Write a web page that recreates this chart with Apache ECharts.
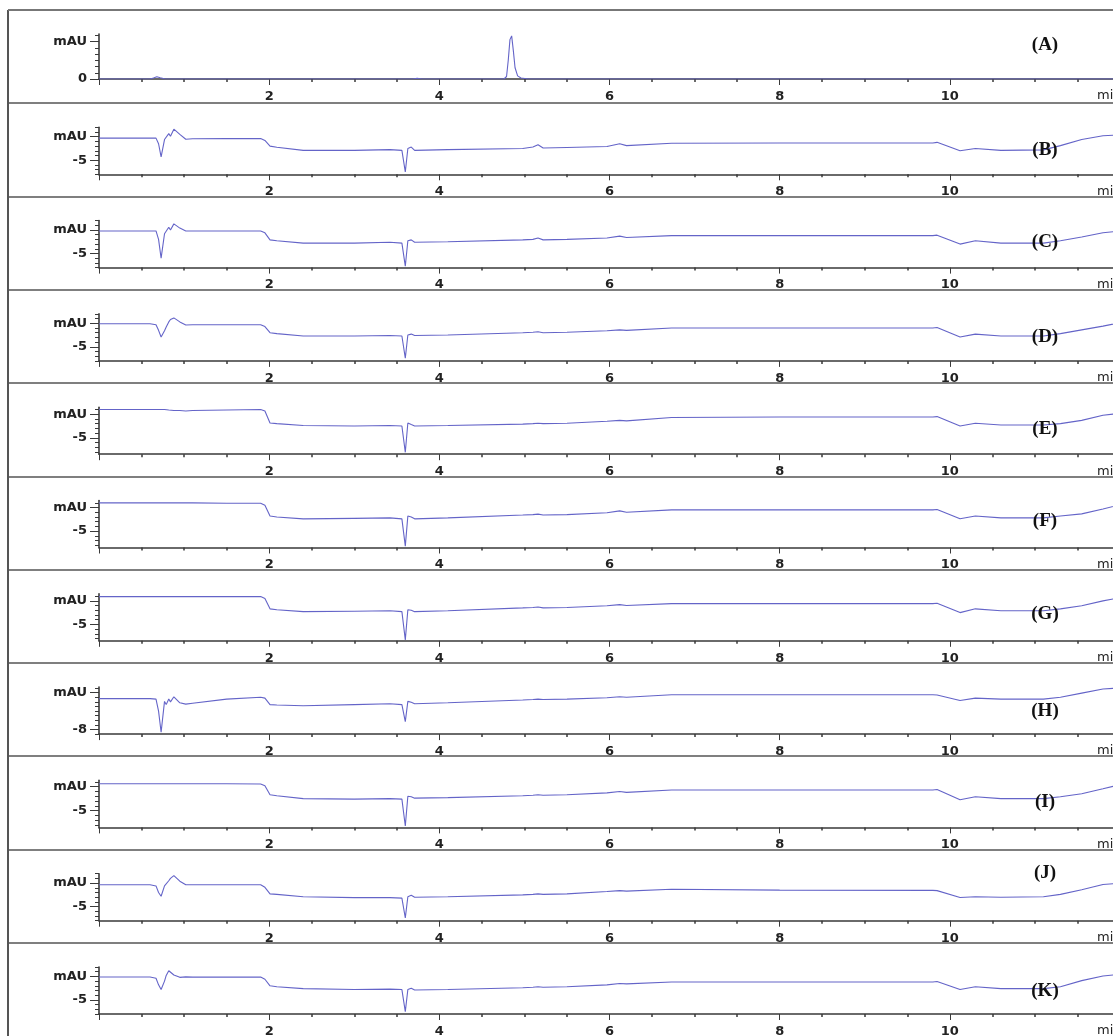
<!DOCTYPE html>
<html>
<head>
<meta charset="utf-8">
<title>Chromatograms (A)-(K)</title>
<script src="https://cdn.jsdelivr.net/npm/echarts@6.0.0/dist/echarts.min.js"></script>
<style>
html, body { margin: 0; padding: 0; background: #fff; }
#chroma_chart { width: 1113px; height: 1036px; }
</style>
</head>
<body>
<div id="chroma_chart"></div>
<script>
// retention time (min) for panel A
var timesA = [0, 0.6, 0.64, 0.68, 0.72, 0.78, 3.68, 3.74, 3.8, 4.76, 4.79, 4.81, 4.83, 4.85, 4.87, 4.89, 4.92, 4.96, 5.05, 12];
var traceA = [0, 0, 0.15, 0.35, 0.2, 0, 0, 0.12, 0, 0, 0.4, 3.0, 6.3, 6.9, 4.5, 1.8, 0.5, 0.15, 0, 0];

// retention time (min) shared by panels B-K
var times = [0, 0.6, 0.67, 0.7, 0.73, 0.77, 0.79, 0.82, 0.84, 0.88,
  0.95, 1.02, 1.1, 1.5, 1.9, 1.95, 2.01, 2.09, 2.4, 3.0,
  3.42, 3.56, 3.6, 3.63, 3.67, 3.71, 4.1, 4.98, 5.1, 5.16,
  5.22, 5.5, 5.97, 6.12, 6.2, 6.73, 8.0, 9.8, 9.85, 10.12,
  10.3, 10.6, 11.1, 11.3, 11.55, 11.8, 12];

// signal (mAU)
var traceB = [-0.3, -0.3, -0.3, -1.5, -4.3, -0.6, -0.9, 0.66, 0.1, 1.6,
  0.5, -0.55, -0.45, -0.4, -0.4, -0.8, -2.0, -2.25, -2.9, -2.9,
  -2.75, -2.9, -7.5, -2.5, -2.2, -2.9, -2.75, -2.5, -2.2, -1.7,
  -2.4, -2.3, -2.1, -1.5, -1.9, -1.4, -1.35, -1.35, -1.2, -3.0,
  -2.5, -2.9, -2.8, -1.9, -0.6, 0.2, 0.4];
var traceC = [-0.2, -0.2, -0.2, -2.0, -6.0, -0.8, -1.0, 0.6, 0.0, 1.3,
  0.4, -0.2, -0.2, -0.2, -0.2, -0.6, -2.1, -2.3, -2.8, -2.8,
  -2.6, -2.8, -7.7, -2.3, -2.1, -2.6, -2.5, -2.1, -2.0, -1.7,
  -2.1, -2.0, -1.7, -1.3, -1.6, -1.2, -1.2, -1.2, -1.1, -3.0,
  -2.3, -2.8, -2.8, -2.3, -1.5, -0.6, -0.2];
var traceD = [-0.1, -0.1, -0.3, -1.5, -2.9, -1.6, -0.8, 0.3, 0.8, 1.15,
  0.3, -0.35, -0.3, -0.3, -0.3, -0.7, -2.0, -2.2, -2.7, -2.7,
  -2.6, -2.7, -7.4, -2.5, -2.3, -2.6, -2.5, -2.0, -1.9, -1.8,
  -2.0, -1.9, -1.6, -1.4, -1.5, -1.0, -1.0, -1.0, -0.9, -2.9,
  -2.3, -2.7, -2.7, -2.2, -1.4, -0.6, 0.1];
var traceE = [1.0, 1.0, 1.0, 1.0, 1.0, 1.0, 1.0, 0.9, 0.9, 0.8,
  0.8, 0.7, 0.8, 0.9, 1.0, 0.7, -1.85, -2.0, -2.4, -2.5,
  -2.4, -2.5, -8.1, -1.85, -2.2, -2.5, -2.4, -2.1, -2.0, -1.9,
  -2.0, -1.9, -1.5, -1.3, -1.4, -0.7, -0.6, -0.6, -0.5, -2.5,
  -1.9, -2.3, -2.3, -2.0, -1.3, -0.2, 0.2];
var traceF = [1.0, 1.0, 1.0, 1.0, 1.0, 1.0, 1.0, 1.0, 1.0, 1.0,
  1.0, 1.0, 1.0, 0.9, 0.9, 0.5, -1.8, -2.0, -2.4, -2.3,
  -2.2, -2.4, -8.2, -1.8, -2.0, -2.4, -2.2, -1.6, -1.5, -1.4,
  -1.6, -1.5, -1.1, -0.7, -1.0, -0.5, -0.5, -0.5, -0.4, -2.4,
  -1.8, -2.2, -2.2, -1.8, -1.35, -0.3, 0.6];
var traceG = [0.9, 0.9, 0.9, 0.9, 0.9, 0.9, 0.9, 0.9, 0.9, 0.9,
  0.9, 0.9, 0.9, 0.9, 0.9, 0.5, -1.7, -1.9, -2.3, -2.2,
  -2.1, -2.3, -8.3, -1.9, -2.0, -2.3, -2.1, -1.5, -1.4, -1.3,
  -1.5, -1.4, -1.05, -0.8, -1.0, -0.6, -0.6, -0.6, -0.5, -2.5,
  -1.7, -2.1, -2.1, -1.7, -1.05, 0.0, 0.65];
var traceH = [-1.3, -1.3, -1.4, -4.0, -8.6, -1.9, -2.6, -1.4, -2.0, -0.9,
  -2.2, -2.5, -2.3, -1.4, -1.0, -1.2, -2.6, -2.7, -2.85, -2.6,
  -2.4, -2.6, -6.3, -1.9, -2.1, -2.4, -2.2, -1.6, -1.5, -1.4,
  -1.5, -1.4, -1.1, -0.9, -1.0, -0.45, -0.45, -0.45, -0.5, -1.7,
  -1.2, -1.4, -1.4, -1.0, -0.1, 0.8, 1.0];
var traceI = [0.6, 0.6, 0.6, 0.6, 0.6, 0.6, 0.6, 0.6, 0.6, 0.6,
  0.6, 0.6, 0.6, 0.6, 0.55, 0.2, -1.7, -1.9, -2.5, -2.6,
  -2.5, -2.6, -8.2, -2.0, -2.1, -2.4, -2.3, -1.9, -1.8, -1.7,
  -1.8, -1.7, -1.3, -1.0, -1.2, -0.7, -0.7, -0.7, -0.6, -2.75,
  -2.1, -2.5, -2.5, -2.1, -1.5, -0.45, 0.4];
var traceJ = [-0.35, -0.35, -0.6, -2.0, -2.8, -0.6, -0.3, 0.5, 1.0, 1.6,
  0.4, -0.35, -0.35, -0.35, -0.35, -0.9, -2.3, -2.4, -2.9, -3.1,
  -3.1, -3.2, -7.4, -2.9, -2.6, -3.0, -2.9, -2.5, -2.4, -2.3,
  -2.4, -2.3, -1.8, -1.6, -1.7, -1.3, -1.5, -1.55, -1.6, -3.05,
  -2.9, -3.0, -2.9, -2.4, -1.4, -0.3, 0.0];
var traceK = [-0.13, -0.13, -0.4, -1.8, -2.8, -1.0, 0.2, 1.2, 1.4, 0.3,
  -0.2, -0.1, -0.15, -0.15, -0.15, -0.6, -2.0, -2.2, -2.6, -2.8,
  -2.7, -2.8, -7.5, -2.8, -2.5, -2.9, -2.8, -2.4, -2.3, -2.2,
  -2.3, -2.2, -1.8, -1.5, -1.6, -1.2, -1.2, -1.2, -1.1, -2.8,
  -2.2, -2.6, -2.6, -2.2, -0.9, 0.1, 0.45];

var panelNames = ["(A)", "(B)", "(C)", "(D)", "(E)", "(F)", "(G)", "(H)", "(I)", "(J)", "(K)"];
var traceList = [traceA, traceB, traceC, traceD, traceE, traceF, traceG, traceH, traceI, traceJ, traceK];

// y axis ranges and labelled ticks of each panel
var yMin = [0, -8, -8, -8, -8.5, -8.5, -8.5, -9, -8.5, -8, -8];
var yMax = [7.2, 2, 2, 2, 1.5, 1.5, 1.5, 1.2, 1.3, 2, 2];
var mauAt = [6, 0, 0, 0, 0, 0, 0, 0, 0, 0, 0];
var numAt = [0, -5, -5, -5, -5, -5, -5, -8, -5, -5, -5];
var xMin = 0, xMax = 12, xStep = 2;

// layout
var PANEL_TOP = 10, PANEL_H = 93.3;
var nameOffsets = [35, 47, 45, 47, 46, 45, 44, 48, 46, 23, 48];
var AXIS_COLOR = "#3a3a3a";
var TRACE_COLOR = "#6464c8";

var chroma_chart = echarts.init(document.getElementById("chroma_chart"));

var grids = [], xAxes = [], yAxes = [], seriesList = [];
var graphics = [
  { type: "line", silent: true, z: 0, shape: { x1: 8, y1: 10, x2: 8, y2: 1036 }, style: { stroke: "#555", lineWidth: 2 } },
  { type: "line", silent: true, z: 0, shape: { x1: 8, y1: 10, x2: 1113, y2: 10 }, style: { stroke: "#777", lineWidth: 2 } }
];

panelNames.forEach(function (name, i) {
  var top = PANEL_TOP + PANEL_H * i;
  var gTop = top + 24;
  var gHeight = i === 0 ? 45 : 47;
  var axisY = gTop + gHeight;

  if (i > 0) {
    graphics.push({ type: "line", silent: true, z: 0,
      shape: { x1: 8, y1: Math.round(top), x2: 1113, y2: Math.round(top) },
      style: { stroke: "#555", lineWidth: 1.5 } });
  }
  graphics.push({ type: "text", silent: true, z: 100, x: 1045, y: top + nameOffsets[i],
    style: { text: name, font: 'bold 19px "Liberation Serif"', fill: "#111", align: "center", verticalAlign: "middle" } });
  graphics.push({ type: "text", silent: true, z: 100, x: 1097, y: axisY + 17,
    style: { text: "min", font: '13px "DejaVu Sans"', fill: "#222", align: "left", verticalAlign: "middle" } });

  grids.push({ left: 99, right: -7, top: gTop, height: gHeight, outerBoundsMode: "none" });

  xAxes.push({
    gridIndex: i, type: "value", min: xMin, max: xMax, interval: xStep,
    axisLine: { onZero: false, lineStyle: { color: AXIS_COLOR, width: 1.6 } },
    axisTick: { length: 6, lineStyle: { color: AXIS_COLOR } },
    minorTick: { show: true, splitNumber: 4, length: 3, lineStyle: { color: AXIS_COLOR, width: 1.5 } },
    splitLine: { show: false },
    axisLabel: {
      margin: 11, fontSize: 13, fontWeight: "bold", color: "#222", fontFamily: "DejaVu Sans",
      formatter: function (v) { return v > xMin && v < xMax ? String(v) : ""; }
    }
  });

  var unitTicks = [];
  for (var t = Math.ceil(yMin[i]); t <= Math.floor(yMax[i]); t++) unitTicks.push(t);

  // labelled axis with long ticks
  yAxes.push({
    gridIndex: i, type: "value", position: "left", min: yMin[i], max: yMax[i],
    axisLine: { show: true, onZero: false, lineStyle: { color: AXIS_COLOR, width: 1.6 } },
    axisTick: { show: true, customValues: [mauAt[i], numAt[i]], length: 9, lineStyle: { color: AXIS_COLOR } },
    splitLine: { show: false },
    axisLabel: {
      customValues: [mauAt[i], numAt[i]], margin: 12, fontSize: 13, fontWeight: "bold",
      fontFamily: "DejaVu Sans", color: "#222",
      formatter: function (v) { return v === mauAt[i] ? "mAU" : String(numAt[i]); }
    }
  });
  // short unit ticks
  yAxes.push({
    gridIndex: i, type: "value", position: "left", min: yMin[i], max: yMax[i],
    axisLine: { show: false, onZero: false },
    axisTick: { show: true, customValues: unitTicks, length: 4, lineStyle: { color: AXIS_COLOR } },
    axisLabel: { show: false },
    splitLine: { show: false }
  });

  var tx = i === 0 ? timesA : times;
  var vals = traceList[i];
  seriesList.push({
    name: name, type: "line", xAxisIndex: i, yAxisIndex: 2 * i,
    symbol: "none", showSymbol: false, silent: true, z: 3,
    lineStyle: { color: TRACE_COLOR, width: 1.1 },
    data: tx.map(function (x, k) { return [x, vals[k]]; })
  });
});

var option = {
  backgroundColor: "#fff",
  animation: false,
  grid: grids,
  xAxis: xAxes,
  yAxis: yAxes,
  series: seriesList,
  graphic: { elements: graphics }
};
chroma_chart.setOption(option);
</script>
</body>
</html>
